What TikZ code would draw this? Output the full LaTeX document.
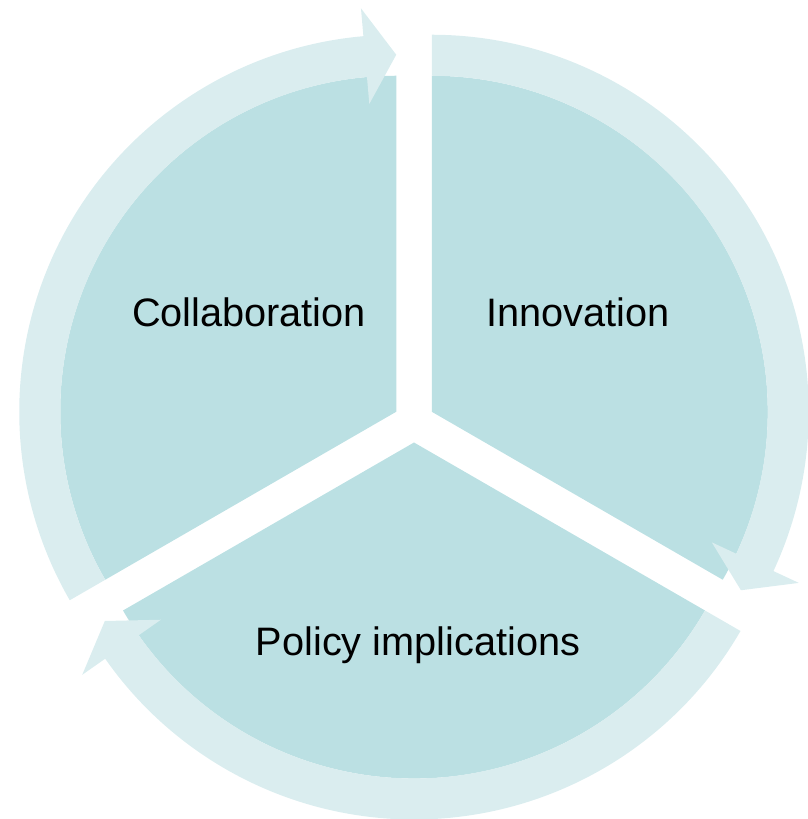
\documentclass[tikz,border=0pt]{standalone}
\usepackage{fontspec}
\setmainfont{Liberation Sans}
\definecolor{piecol}{RGB}{187,224,227}
\definecolor{ringcol}{RGB}{218,237,239}
\begin{document}
\begin{tikzpicture}[x=1pt,y=1pt,
  seg/.style={fill=piecol},
  arr/.style={fill=ringcol},
  lbl/.style={font=\fontsize{39.7}{48}\selectfont, text=black, anchor=base, inner sep=0pt}]
\useasboundingbox (0,0) rectangle (807,819);
\coordinate (CL) at (396.25,407.25);
\coordinate (CR) at (431.75,407.25);
\coordinate (CB) at (414,376.5);
% pie segments
\fill[seg] (CL) -- ([shift={(CL)}]90:336pt) arc[start angle=90,end angle=210,radius=336pt] -- cycle;
\fill[seg] (CR) -- ([shift={(CR)}]-30:336pt) arc[start angle=-30,end angle=90,radius=336pt] -- cycle;
\fill[seg] (CB) -- ([shift={(CB)}]210:336pt) arc[start angle=210,end angle=330,radius=336pt] -- cycle;
% circular arrows
\fill[arr] ([shift={(CL)}]210:377pt) arc[start angle=210,end angle=95,radius=377pt]
  -- ([shift={(CL)}]95:405pt) -- ([shift={(CL)}]90:357pt) -- ([shift={(CL)}]95:309pt)
  -- ([shift={(CL)}]95:336pt) arc[start angle=95,end angle=210,radius=336pt] -- cycle;
\fill[arr] ([shift={(CR)}]90:377pt) arc[start angle=90,end angle=-25,radius=377pt]
  -- ([shift={(CR)}]-25:405pt) -- ([shift={(CR)}]-30:357pt) -- ([shift={(CR)}]-25:309pt)
  -- ([shift={(CR)}]-25:336pt) arc[start angle=-25,end angle=90,radius=336pt] -- cycle;
\fill[arr] ([shift={(CB)}]-30:377pt) arc[start angle=-30,end angle=-145,radius=377pt]
  -- ([shift={(CB)}]-145:405pt) -- ([shift={(CB)}]-150:357pt) -- ([shift={(CB)}]-145:309pt)
  -- ([shift={(CB)}]-145:336pt) arc[start angle=-145,end angle=-30,radius=336pt] -- cycle;
% labels
\node[lbl] (collab) at (249,492) {Collaboration};
\node[lbl] (innov) at (578,492) {Innovation};
\node[lbl] (policy) at (418,163) {Policy implications};
\end{tikzpicture}
\end{document}
